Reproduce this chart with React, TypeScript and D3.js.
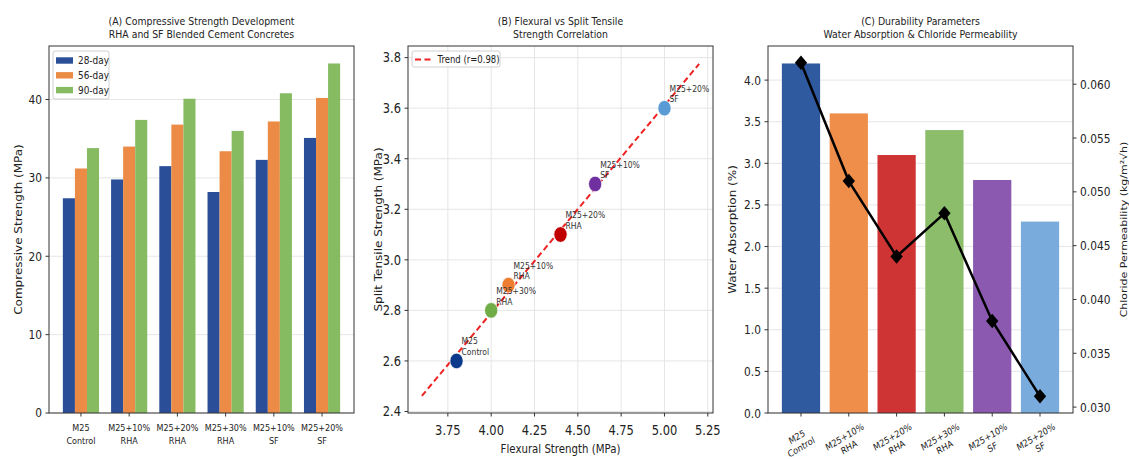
import React, { useRef, useEffect } from 'react';
import * as d3 from 'd3';

// mixes (same order in all three panels)
const mixes = ['M25\nControl', 'M25+10%\nRHA', 'M25+20%\nRHA', 'M25+30%\nRHA', 'M25+10%\nSF', 'M25+20%\nSF'];

// (A) compressive strength, MPa
const ages = ['28-day', '56-day', '90-day'];
const strength28 = [27.4, 29.8, 31.5, 28.2, 32.3, 35.1];
const strength56 = [31.2, 34.0, 36.8, 33.4, 37.2, 40.2];
const strength90 = [33.8, 37.4, 40.1, 36.0, 40.8, 44.6];
const ageColors = ['#2a4f98', '#ec8b45', '#86bb61'];
const yTicksA = [0, 10, 20, 30, 40];

// (B) flexural vs split tensile
const flexural = [3.8, 4.1, 4.4, 4.0, 4.6, 5.0];
const splitTensile = [2.6, 2.9, 3.1, 2.8, 3.3, 3.6];
const pointColors = ['#0b3a8c', '#ed7d31', '#c00000', '#70ad47', '#7030a0', '#5b9bd5'];
const trendRange = [3.6, 5.2];
const trendLabel = 'Trend (r=0.98)';
const xTicksB = [3.75, 4.0, 4.25, 4.5, 4.75, 5.0, 5.25];
const yTicksB = [2.4, 2.6, 2.8, 3.0, 3.2, 3.4, 3.6, 3.8];

// (C) durability
const waterAbsorption = [4.2, 3.6, 3.1, 3.4, 2.8, 2.3];
const chloridePerm = [0.062, 0.051, 0.044, 0.048, 0.038, 0.031];
const barColors = ['#2f5a9f', '#ee8e4a', '#cf3434', '#8bbd6b', '#8b5ab0', '#79acdd'];
const yTicksC = [0, 0.5, 1.0, 1.5, 2.0, 2.5, 3.0, 3.5, 4.0];
const yTicksC2 = [0.030, 0.035, 0.040, 0.045, 0.050, 0.055, 0.060];

const W = 1129, H = 459;
const TOP = 46, BOTTOM = 413;
const SX = 0.85; // the reference is squeezed horizontally
const INK = '#222';
const GRID = '#e6e6e6';

const App = () => {
  const ref = useRef(null);

  useEffect(() => {
    const svg = d3.select(ref.current);
    svg.selectAll('*').remove();
    svg.attr('font-family', 'DejaVu Sans');

    const txt = (g, x, y, s, size, anchor = 'middle', rotate = 0, fill = INK, lh = 1.2) => {
      const t = g.append('text')
        .attr('transform', `translate(${x},${y}) scale(${SX},1)${rotate ? ` rotate(${rotate})` : ''}`)
        .attr('text-anchor', anchor)
        .attr('font-size', size)
        .attr('fill', fill);
      const lines = String(s).split('\n');
      if (lines.length === 1) t.text(s);
      else lines.forEach((l, i) => t.append('tspan').attr('x', 0).attr('dy', i === 0 ? 0 : `${lh}em`).text(l));
      return t;
    };

    const frame = (x0, x1) => svg.append('rect')
      .attr('x', x0).attr('y', TOP).attr('width', x1 - x0).attr('height', BOTTOM - TOP)
      .attr('fill', 'none').attr('stroke', '#333').attr('stroke-width', 1);

    const title = (cx, a, b) => {
      txt(svg, cx, 24.5, a, 11);
      txt(svg, cx, 37.5, b, 11);
    };

    // ---------- (A) ----------
    const ax0 = 49, ax1 = 354;
    const xA = d3.scaleLinear().domain([-0.6625, 5.6625]).range([ax0, ax1]);
    const yA = d3.scaleLinear().domain([0, 46.83]).range([BOTTOM, TOP]);
    const gA = svg.append('g');
    yTicksA.forEach(v => {
      gA.append('line').attr('x1', ax0).attr('x2', ax1).attr('y1', yA(v)).attr('y2', yA(v)).attr('stroke', GRID);
    });
    const seriesA = [strength28, strength56, strength90];
    const bw = 0.25;
    seriesA.forEach((vals, si) => {
      gA.append('g').selectAll('rect').data(vals).join('rect')
        .attr('x', (d, i) => xA(i + (si - 1) * bw - bw / 2))
        .attr('width', xA(bw) - xA(0))
        .attr('y', d => yA(d))
        .attr('height', d => yA(0) - yA(d))
        .attr('fill', ageColors[si]);
    });
    frame(ax0, ax1);
    yTicksA.forEach(v => {
      gA.append('line').attr('x1', ax0 - 3.5).attr('x2', ax0).attr('y1', yA(v)).attr('y2', yA(v)).attr('stroke', '#333');
      txt(gA, ax0 - 7, yA(v) + 4.3, String(v), 12.5, 'end');
    });
    mixes.forEach((m, i) => {
      gA.append('line').attr('x1', xA(i)).attr('x2', xA(i)).attr('y1', BOTTOM).attr('y2', BOTTOM + 3.5).attr('stroke', '#333');
      txt(gA, xA(i), 430.5, m, 9.5, 'middle', 0, INK, 1.37);
    });
    txt(gA, 21.5, (TOP + BOTTOM) / 2, 'Compressive Strength (MPa)', 12, 'middle', -90);
    title((ax0 + ax1) / 2, '(A) Compressive Strength Development', 'RHA and SF Blended Cement Concretes');
    // legend
    const lgA = gA.append('g');
    lgA.append('rect').attr('x', 53).attr('y', 51).attr('width', 56).attr('height', 48).attr('rx', 2)
      .attr('fill', 'white').attr('fill-opacity', 0.85).attr('stroke', '#d0d0d0');
    ages.forEach((a, i) => {
      const cy = 60.5 + i * 14.8;
      lgA.append('rect').attr('x', 56).attr('y', cy - 3.2).attr('width', 17).attr('height', 6.4).attr('fill', ageColors[i]);
      txt(lgA, 78, cy + 3.6, a, 10.5, 'start');
    });

    // ---------- (B) ----------
    const bx0 = 408, bx1 = 713;
    const xB = d3.scaleLinear().domain([3.52, 5.28]).range([bx0, bx1]);
    const yB = d3.scaleLinear().domain([2.394, 3.846]).range([BOTTOM, TOP]);
    const gB = svg.append('g');
    xTicksB.forEach(v => gB.append('line').attr('x1', xB(v)).attr('x2', xB(v)).attr('y1', TOP).attr('y2', BOTTOM).attr('stroke', GRID));
    yTicksB.forEach(v => gB.append('line').attr('x1', bx0).attr('x2', bx1).attr('y1', yB(v)).attr('y2', yB(v)).attr('stroke', GRID));
    // least squares trend
    const mx = d3.mean(flexural), my = d3.mean(splitTensile);
    const slope = d3.sum(flexural, (x, i) => (x - mx) * (splitTensile[i] - my)) / d3.sum(flexural, x => (x - mx) ** 2);
    const fit = x => my + slope * (x - mx);
    gB.append('path')
      .attr('d', d3.line()(trendRange.map(x => [xB(x), yB(fit(x))])))
      .attr('stroke', '#ee2222').attr('stroke-width', 2).attr('stroke-dasharray', '6,3.5').attr('fill', 'none');
    flexural.forEach((f, i) => {
      gB.append('circle')
        .attr('transform', `translate(${xB(f)},${yB(splitTensile[i])}) scale(${SX},1)`)
        .attr('r', 7.8).attr('fill', pointColors[i]).attr('stroke', 'white').attr('stroke-width', 0.8);
    });
    flexural.forEach((f, i) => {
      txt(gB, xB(f) + 5, yB(splitTensile[i]) - 16.5, mixes[i], 9, 'start', 0, '#333', 1.2);
    });
    frame(bx0, bx1);
    xTicksB.forEach(v => {
      gB.append('line').attr('x1', xB(v)).attr('x2', xB(v)).attr('y1', BOTTOM).attr('y2', BOTTOM + 3.5).attr('stroke', '#333');
      txt(gB, xB(v), 435, v.toFixed(2), 13.5);
    });
    yTicksB.forEach(v => {
      gB.append('line').attr('x1', bx0 - 3.5).attr('x2', bx0).attr('y1', yB(v)).attr('y2', yB(v)).attr('stroke', '#333');
      txt(gB, bx0 - 7, yB(v) + 4.8, v.toFixed(1), 13.5, 'end');
    });
    txt(gB, (bx0 + bx1) / 2, 453, 'Flexural Strength (MPa)', 12);
    txt(gB, 381.5, (TOP + BOTTOM) / 2, 'Split Tensile Strength (MPa)', 12, 'middle', -90);
    title((bx0 + bx1) / 2, '(B) Flexural vs Split Tensile', 'Strength Correlation');
    const lgB = gB.append('g');
    lgB.append('rect').attr('x', 412).attr('y', 51).attr('width', 88).attr('height', 16).attr('rx', 2)
      .attr('fill', 'white').attr('fill-opacity', 0.85).attr('stroke', '#d0d0d0');
    lgB.append('line').attr('x1', 415).attr('x2', 433).attr('y1', 59.5).attr('y2', 59.5)
      .attr('stroke', '#ee2222').attr('stroke-width', 2).attr('stroke-dasharray', '6,3.5');
    txt(lgB, 437.5, 63, trendLabel, 10, 'start');

    // ---------- (C) ----------
    const cx0 = 768, cx1 = 1073;
    const xC = d3.scaleLinear().domain([-0.69, 5.69]).range([cx0, cx1]);
    const yC = d3.scaleLinear().domain([0, 4.41]).range([BOTTOM, TOP]);
    const yC2 = d3.scaleLinear().domain([0.02945, 0.06355]).range([BOTTOM, TOP]);
    const gC = svg.append('g');
    yTicksC.forEach(v => gC.append('line').attr('x1', cx0).attr('x2', cx1).attr('y1', yC(v)).attr('y2', yC(v)).attr('stroke', GRID));
    gC.append('g').selectAll('rect').data(waterAbsorption).join('rect')
      .attr('x', (d, i) => xC(i - 0.4))
      .attr('width', xC(0.8) - xC(0))
      .attr('y', d => yC(d))
      .attr('height', d => yC(0) - yC(d))
      .attr('fill', (d, i) => barColors[i]);
    gC.append('path')
      .attr('d', d3.line()(chloridePerm.map((v, i) => [xC(i), yC2(v)])))
      .attr('stroke', 'black').attr('stroke-width', 2.5).attr('fill', 'none');
    const diamond = d3.symbol().type(d3.symbolSquare).size(105)();
    chloridePerm.forEach((v, i) => {
      gC.append('path').attr('d', diamond)
        .attr('transform', `translate(${xC(i)},${yC2(v)}) scale(${SX},1) rotate(45)`)
        .attr('fill', 'black');
    });
    frame(cx0, cx1);
    yTicksC.forEach(v => {
      gC.append('line').attr('x1', cx0 - 3.5).attr('x2', cx0).attr('y1', yC(v)).attr('y2', yC(v)).attr('stroke', '#333');
      txt(gC, cx0 - 7, yC(v) + 4.5, v.toFixed(1), 12.5, 'end');
    });
    yTicksC2.forEach(v => {
      gC.append('line').attr('x1', cx1).attr('x2', cx1 + 3.5).attr('y1', yC2(v)).attr('y2', yC2(v)).attr('stroke', '#333');
      txt(gC, cx1 + 7, yC2(v) + 4.5, v.toFixed(3), 12.5, 'start');
    });
    mixes.forEach((m, i) => {
      gC.append('line').attr('x1', xC(i)).attr('x2', xC(i)).attr('y1', BOTTOM).attr('y2', BOTTOM + 3.5).attr('stroke', '#333');
      const lines = m.split('\n');
      const g = gC.append('g').attr('transform', `translate(${xC(i) - 2},${442}) scale(${SX},1) rotate(-27)`);
      lines.forEach((l, k) => {
        g.append('text').attr('x', 0).attr('y', (k - 0.5) * 11.5 + 3.3)
          .attr('text-anchor', 'middle').attr('font-size', 9.5).attr('fill', INK).text(l);
      });
    });
    txt(gC, 736, (TOP + BOTTOM) / 2, 'Water Absorption (%)', 12, 'middle', -90);
    txt(gC, 1127, (TOP + BOTTOM) / 2, 'Chloride Permeability (kg/m²√h)', 11, 'middle', -90);
    title((cx0 + cx1) / 2, '(C) Durability Parameters', 'Water Absorption & Chloride Permeability');
  }, []);

  return (
    <svg ref={ref} width={W} height={H}
      style={{ position: 'absolute', left: 0, top: 0, background: 'white' }} />
  );
};

export default App;
